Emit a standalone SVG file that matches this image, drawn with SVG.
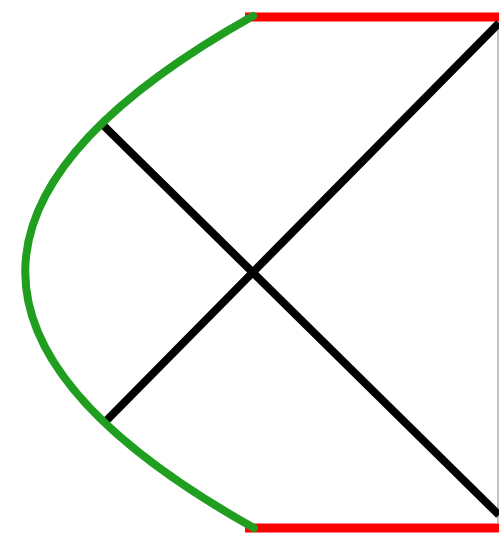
<svg xmlns="http://www.w3.org/2000/svg" width="499" height="535" viewBox="0 0 499 535">
<style>
.red{stroke:#ff0000;stroke-width:9;fill:none}
.blk{stroke:#000;stroke-width:8;fill:none}
.grn{stroke:#1f9e1f;stroke-width:8;fill:none;stroke-linecap:round}
.gry{stroke:#b0b0b0;stroke-width:1.5;fill:none}
</style>
<rect width="499" height="535" fill="#fff"/>
<g id="connectors">
<line class="red" x1="245" y1="17" x2="499" y2="17"/>
<line class="red" x1="245" y1="528" x2="499" y2="528"/>
<line class="gry" x1="498" y1="22" x2="498" y2="523"/>
<line class="blk" x1="103" y1="125" x2="499" y2="515"/>
<line class="blk" x1="105" y1="422" x2="499" y2="23"/>
<path class="grn" d="M253,16 Q-203,272 254,528"/>
</g>
</svg>
